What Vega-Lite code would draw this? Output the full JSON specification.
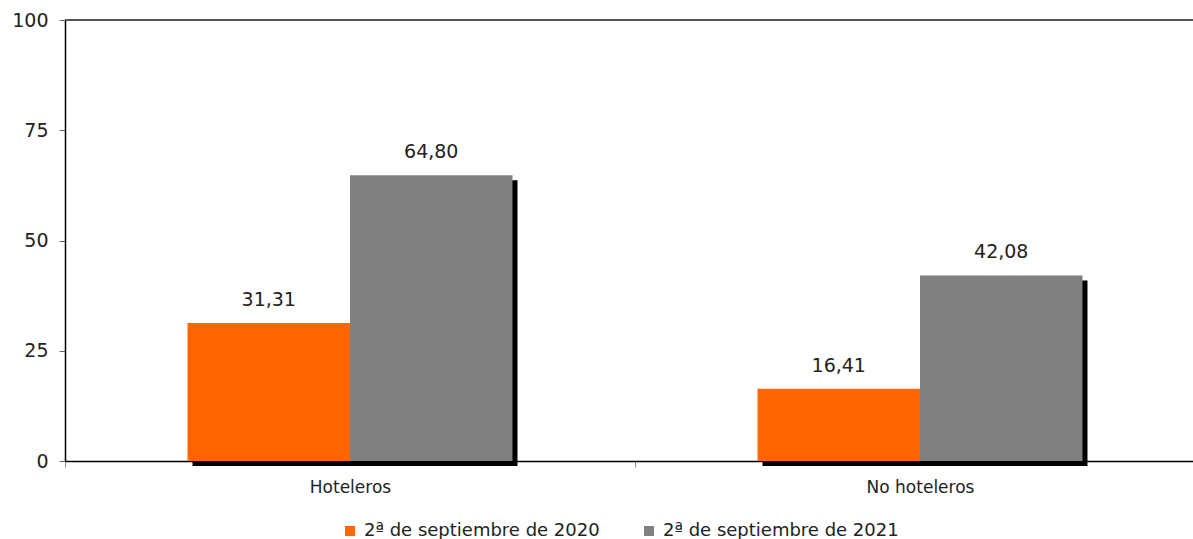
{
  "$schema": "https://vega.github.io/schema/vega-lite/v6.json",
  "autosize": "none",
  "padding": {"left": 65, "top": 20, "right": 0, "bottom": 78},
  "width": 1128,
  "height": 441,
  "config": {
    "view": {"stroke": null},
    "font": "DejaVu Sans",
    "axisX": {
      "title": null, "labelAngle": 0, "labelAlign": "center", "labelFontSize": 17, "labelColor": "#222222",
      "labelPadding": 12, "tickBand": "extent", "tickColor": "#888888", "tickSize": 6,
      "domainColor": "#000000", "domainWidth": 1.5
    },
    "locale": {"number": {"decimal": ",", "thousands": ".", "grouping": [3], "currency": ["", " €"]}}
  },
  "data": {
    "values": [
      {"categoria": "Hoteleros", "serie": "2ª de septiembre de 2020", "valor": 31.31},
      {"categoria": "Hoteleros", "serie": "2ª de septiembre de 2021", "valor": 64.80},
      {"categoria": "No hoteleros", "serie": "2ª de septiembre de 2020", "valor": 16.41},
      {"categoria": "No hoteleros", "serie": "2ª de septiembre de 2021", "valor": 42.08}
    ]
  },
  "resolve": {"scale": {"xOffset": "independent"}},
  "layer": [
    {
      "mark": {"type": "rule", "color": "#555555", "strokeWidth": 1.5},
      "encoding": {"y": {"datum": 100, "type": "quantitative", "scale": {"domain": [0, 100], "nice": false}}}
    },
    {
      "mark": {"type": "bar", "color": "#000000", "yOffset": 5, "y2Offset": 2},
      "encoding": {
        "x": {"field": "categoria", "type": "nominal", "scale": {"range": [0, 1140], "padding": 0}},
        "xOffset": {"field": "serie", "type": "nominal", "scale": {"range": [5, 575], "paddingInner": 0, "paddingOuter": 0.754}},
        "y": {"field": "valor", "type": "quantitative"}
      }
    },
    {
      "mark": {"type": "bar"},
      "encoding": {
        "x": {"field": "categoria", "type": "nominal"},
        "xOffset": {"field": "serie", "type": "nominal", "scale": {"paddingInner": 0, "paddingOuter": 0.754}},
        "y": {
          "field": "valor", "type": "quantitative",
          "axis": {
            "title": null, "values": [0, 25, 50, 75, 100], "grid": false,
            "labelFontSize": 19, "labelColor": "#222222", "labelPadding": 11,
            "tickColor": "#666666", "tickSize": 6, "domainColor": "#000000", "domainWidth": 1.5
          }
        },
        "color": {
          "field": "serie", "type": "nominal",
          "scale": {"domain": ["2ª de septiembre de 2020", "2ª de septiembre de 2021"], "range": ["#FF6600", "#808080"]},
          "legend": {
            "title": null, "orient": "none", "legendX": 276, "legendY": 502, "direction": "horizontal",
            "symbolType": "square", "symbolSize": 100, "symbolStrokeWidth": 0, "labelFontSize": 18,
            "labelColor": "#222222", "labelOffset": 5, "columnPadding": 40, "labelLimit": 400
          }
        }
      }
    },
    {
      "mark": {"type": "text", "baseline": "alphabetic", "dy": -17, "fontSize": 19, "color": "#222222"},
      "encoding": {
        "x": {"field": "categoria", "type": "nominal"},
        "xOffset": {"field": "serie", "type": "nominal", "scale": {"type": "band", "paddingInner": 0, "paddingOuter": 0.754}},
        "y": {"field": "valor", "type": "quantitative"},
        "text": {"field": "valor", "type": "quantitative", "format": ".2f"}
      }
    }
  ]
}
